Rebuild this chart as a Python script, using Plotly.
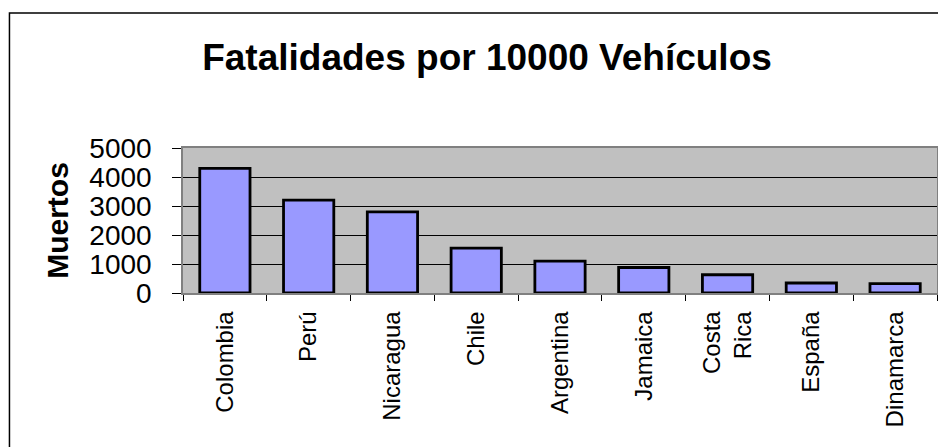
import plotly.graph_objects as go

# data
paises = ["Colombia", "Perú", "Nicaragua", "Chile", "Argentina",
          "Jamaica", "Costa Rica", "España", "Dinamarca"]
etiquetas = ["Colombia", "Perú", "Nicaragua", "Chile", "Argentina",
             "Jamaica", "Costa<br>Rica", "España", "Dinamarca"]
muertos = [4300, 3200, 2800, 1550, 1100, 880, 630, 345, 325]
y_ticks = [0, 1000, 2000, 3000, 4000, 5000]

FONT = "Liberation Sans, Arial, sans-serif"

# page has an 8px body margin, so the figure is drawn 8px smaller
W, H = 938, 439
L, T, R, B = 175, 140, 7, 154
plot_w = W - L - R
plot_h = H - T - B

bars = go.Bar(
    x=paises,
    y=muertos,
    marker=dict(color="#9999FF", line=dict(color="black", width=2.8)),
    width=0.6,
)

layout = go.Layout(
    width=W,
    height=H,
    paper_bgcolor="white",
    plot_bgcolor="#C0C0C0",
    showlegend=False,
    font=dict(family=FONT, color="black"),
    margin=dict(l=L, r=R, t=T, b=B),
    title=dict(
        text="<b>Fatalidades por 10000 Vehículos</b>",
        font=dict(size=37, family=FONT, color="black"),
        x=(487 - 8) / W, xanchor="center", xref="container",
        y=1 - (57 - 8) / H, yanchor="middle", yref="container",
    ),
    xaxis=dict(
        tickvals=paises,
        ticktext=etiquetas,
        tickangle=-90,
        tickfont=dict(size=24),
        ticks="outside",
        ticklen=6,
        tickcolor="black",
        tickson="boundaries",
        showline=True,
        linecolor="#808080",
        linewidth=1.5,
        mirror=True,
        showgrid=False,
        ticklabelstandoff=7,
    ),
    yaxis=dict(
        range=[0, 5000],
        tickvals=y_ticks,
        tickfont=dict(size=28),
        ticks="outside",
        ticklen=9,
        tickcolor="black",
        showline=True,
        linecolor="#808080",
        linewidth=1.5,
        mirror=True,
        gridcolor="black",
        gridwidth=1,
        zeroline=False,
        ticklabelstandoff=15,
        title=dict(text="<b>Muertos</b>", font=dict(size=30), standoff=12),
    ),
)

fig = go.Figure(data=[bars], layout=layout)

# outer chart frame (only top and left edge are visible in the picture)
fig.add_shape(
    type="rect", xref="paper", yref="paper",
    x0=(1 - L) / plot_w, x1=1.2, y0=-1.5, y1=(H - B - 5) / plot_h,
    line=dict(color="black", width=1.5),
    layer="above",
)

fig.write_html("out.html")
